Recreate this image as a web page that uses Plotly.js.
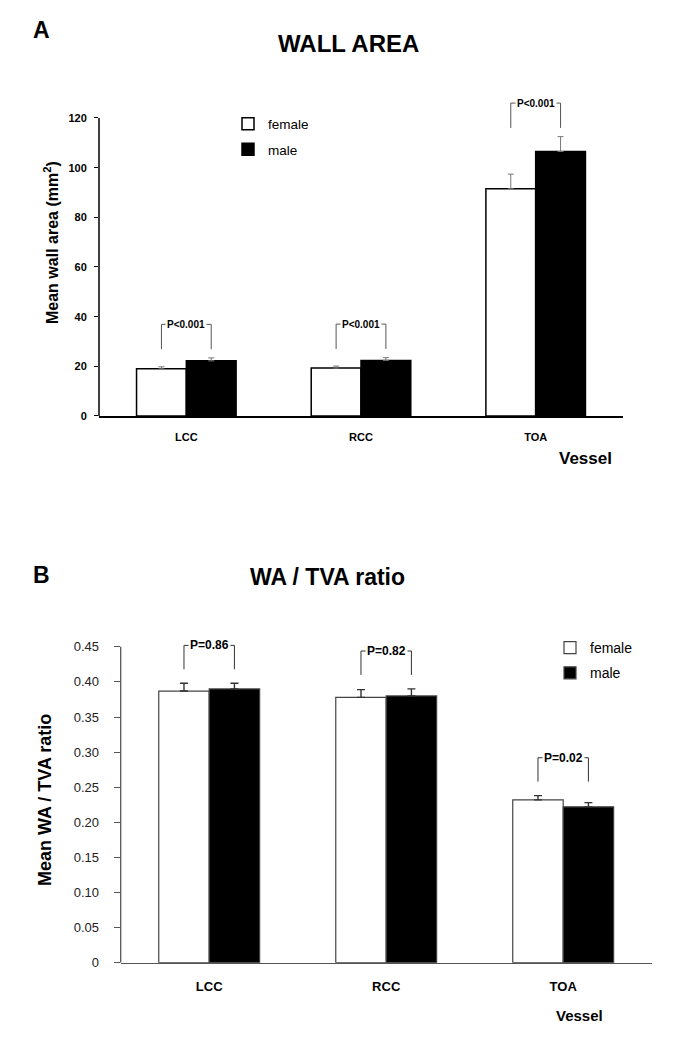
<!DOCTYPE html>
<html>
<head>
<meta charset="utf-8">
<script src="https://cdn.plot.ly/plotly-3.0.1.min.js"></script>
<style>html,body{margin:0;padding:0;background:#fff;}#chart{width:693px;height:1050px;}</style>
</head>
<body>
<div id="chart"></div>
<script>
// ---- data ----
const categories = ['LCC', 'RCC', 'TOA'];
const seriesNames = ['female', 'male'];

// Panel A: mean wall area (mm²)
const wallFemale = [19.0, 19.3, 91.5];
const wallMale = [22.2, 22.4, 106.5];
const wallFemaleErr = [0.8, 0.8, 5.9];
const wallMaleErr = [1.2, 1.1, 6.0];
const wallPLabels = ['P<0.001', 'P<0.001', 'P<0.001'];
const wallTicks = [0, 20, 40, 60, 80, 100, 120];

// Panel B: mean WA / TVA ratio
const ratioFemale = [0.387, 0.378, 0.232];
const ratioMale = [0.390, 0.380, 0.222];
const ratioFemaleErr = [0.011, 0.011, 0.006];
const ratioMaleErr = [0.008, 0.010, 0.006];
const ratioPLabels = ['P=0.86', 'P=0.82', 'P=0.02'];
const ratioTicks = [0, 0.05, 0.10, 0.15, 0.20, 0.25, 0.30, 0.35, 0.40, 0.45];
const ratioTickText = ['0', '0.05', '0.10', '0.15', '0.20', '0.25', '0.30', '0.35', '0.40', '0.45'];

// ---- styling ----
const FONT = 'Arial, "Liberation Sans", Helvetica, sans-serif';
const W = 693, H = 1050;
const BARGAP = 0.43;
const half = (1 - BARGAP) / 4; // offset of each bar centre from category centre

function px(x) { return x / W; }
function py(y) { return 1 - y / H; }

function barTrace(name, y, err, fill, lineColor, lineW, errColor, errThick, errW, xa, ya, legend, showleg) {
  return {
    type: 'bar', name: name, x: categories, y: y,
    xaxis: xa, yaxis: ya, legend: legend, legendgroup: legend + name, showlegend: showleg,
    marker: {color: fill, line: {color: lineColor, width: lineW}},
    error_y: {type: 'data', symmetric: false, array: err, arrayminus: err.map(() => 0),
              color: errColor, thickness: errThick, width: errW},
    hoverinfo: 'x+y+name'
  };
}

const traces = [
  barTrace(seriesNames[0], wallFemale, wallFemaleErr, '#ffffff', '#000', 1.5, '#777', 1, 3, 'x', 'y', 'legend', true),
  barTrace(seriesNames[1], wallMale, wallMaleErr, '#000000', '#000', 1.5, '#777', 1, 3, 'x', 'y', 'legend', true),
  barTrace(seriesNames[0], ratioFemale, ratioFemaleErr, '#ffffff', '#444', 1.2, '#333', 1.4, 4, 'x2', 'y2', 'legend2', true),
  barTrace(seriesNames[1], ratioMale, ratioMaleErr, '#000000', '#444', 1.2, '#333', 1.4, 4, 'x2', 'y2', 'legend2', true)
];

function brackets(fem, femErr, mal, malErr, labels, gap, h, xref, yref, color, fontSize) {
  const shapes = [], anns = [];
  categories.forEach((c, i) => {
    const bottom = Math.max(fem[i] + femErr[i], mal[i] + malErr[i]) + gap;
    const top = bottom + h;
    const x0 = i - half, x1 = i + half;
    const line = {color: color, width: 1};
    shapes.push({type: 'line', xref: xref, yref: yref, x0: x0, x1: x0, y0: bottom, y1: top, line: line});
    shapes.push({type: 'line', xref: xref, yref: yref, x0: x0, x1: x1, y0: top, y1: top, line: line});
    shapes.push({type: 'line', xref: xref, yref: yref, x0: x1, x1: x1, y0: bottom, y1: top, line: line});
    anns.push({xref: xref, yref: yref, x: i, y: top, text: labels[i], showarrow: false,
               xanchor: 'center', yanchor: 'middle', bgcolor: '#ffffff', borderpad: 1,
               font: {family: FONT, size: fontSize, color: '#000', weight: 700}});
  });
  return {shapes, anns};
}

const bA = brackets(wallFemale, wallFemaleErr, wallMale, wallMaleErr, wallPLabels, 3.5, 10, 'x', 'y', '#555', 10);
const bB = brackets(ratioFemale, ratioFemaleErr, ratioMale, ratioMaleErr, ratioPLabels, 0.02, 0.034, 'x2', 'y2', '#333', 12);

// y-axis lines that stop at the last tick
const axisLines = [
  {type: 'line', xref: 'x domain', yref: 'y', x0: 0, x1: 0, y0: 0, y1: wallTicks[wallTicks.length - 1], line: {color: '#000', width: 1.5}},
  {type: 'line', xref: 'x2 domain', yref: 'y2', x0: 0, x1: 0, y0: 0, y1: ratioTicks[ratioTicks.length - 1], line: {color: '#555', width: 1.3}}
];

function textAnn(text, x, y, size, angle) {
  return {xref: 'paper', yref: 'paper', x: px(x), y: py(y), text: text, showarrow: false,
          xanchor: 'center', yanchor: 'middle', textangle: angle || 0,
          font: {family: FONT, size: size, color: '#000', weight: 700}};
}

const annotations = [
  textAnn('A', 41.5, 30, 23),
  textAnn('WALL AREA', 348, 43, 24),
  textAnn('Mean wall area (mm<sup>2</sup>)', 51, 243, 16, -90),
  textAnn('Vessel', 585, 458, 17),
  textAnn('B', 41, 575, 23),
  textAnn('WA / TVA ratio', 327.5, 577, 23),
  textAnn('Mean WA / TVA ratio', 45, 800, 18, -90),
  textAnn('Vessel', 579, 1015, 15)
].concat(bA.anns, bB.anns);

const layout = {
  width: W, height: H,
  margin: {l: 0, r: 0, t: 0, b: 0},
  paper_bgcolor: '#fff', plot_bgcolor: 'rgba(0,0,0,0)',
  font: {family: FONT, color: '#000'},
  barmode: 'group', bargap: BARGAP, bargroupgap: 0,
  xaxis: {
    domain: [px(99), px(623)], anchor: 'y', type: 'category', range: [-0.5, 2.5],
    showline: true, linecolor: '#000', linewidth: 1.5, ticks: '', showgrid: false, zeroline: false,
    tickfont: {family: FONT, size: 11, color: '#000', weight: 700}, ticklabelstandoff: 10, fixedrange: true
  },
  yaxis: {
    domain: [py(416), py(416 - 127 * (298 / 120))], anchor: 'x', range: [0, 127],
    tickvals: wallTicks, ticks: 'outside', ticklen: 4, tickwidth: 1.2, tickcolor: '#000',
    showline: false, showgrid: false, zeroline: false,
    tickfont: {family: FONT, size: 11, color: '#000', weight: 700}, ticklabelstandoff: 5, fixedrange: true
  },
  xaxis2: {
    domain: [px(120.7), px(651.7)], anchor: 'y2', type: 'category', range: [-0.5, 2.5],
    showline: true, linecolor: '#555', linewidth: 1.3, ticks: '', showgrid: false, zeroline: false,
    tickfont: {family: FONT, size: 13, color: '#000', weight: 700}, ticklabelstandoff: 12, fixedrange: true
  },
  yaxis2: {
    domain: [py(962.7), py(962.7 - 0.465 * 702)], anchor: 'x2', range: [0, 0.465],
    tickvals: ratioTicks, ticktext: ratioTickText, ticks: 'outside', ticklen: 6, tickwidth: 1, tickcolor: '#555',
    showline: false, showgrid: false, zeroline: false,
    tickfont: {family: FONT, size: 13, color: '#222'}, ticklabelstandoff: 12, fixedrange: true
  },
  legend: {
    x: px(228), y: py(108.5), xanchor: 'left', yanchor: 'top', traceorder: 'grouped', tracegroupgap: 5,
    bgcolor: 'rgba(0,0,0,0)', font: {family: FONT, size: 13.5, color: '#000'}
  },
  legend2: {
    x: px(550), y: py(632), xanchor: 'left', yanchor: 'top', traceorder: 'grouped', tracegroupgap: 4,
    bgcolor: 'rgba(0,0,0,0)', font: {family: FONT, size: 14, color: '#000'}
  },
  shapes: axisLines.concat(bA.shapes, bB.shapes),
  annotations: annotations
};

Plotly.newPlot('chart', traces, layout, {displayModeBar: false, staticPlot: false});
</script>
</body>
</html>
